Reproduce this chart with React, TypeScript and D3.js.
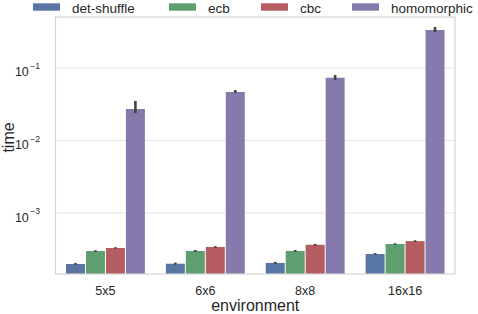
import React from 'react';
import * as d3 from 'd3';

const environments = ['5x5', '6x6', '8x8', '16x16'];
const methods = ['det-shuffle', 'ecb', 'cbc', 'homomorphic'];
const colors = ['#5975a4', '#5f9e6e', '#b55d60', '#857aab'];

// mean time per method, one entry per environment
const detShuffle = [0.000198, 0.000200, 0.000205, 0.000272];
const ecb = [0.000299, 0.000300, 0.000300, 0.000374];
const cbc = [0.000329, 0.000340, 0.000365, 0.000410];
const homomorphic = [0.0272, 0.0467, 0.0734, 0.334];

// confidence interval bounds
const ciLow = [
  [0.000192, 0.000194, 0.000199, 0.000265],
  [0.000291, 0.000292, 0.000292, 0.000365],
  [0.000320, 0.000331, 0.000355, 0.000400],
  [0.0239, 0.0452, 0.0683, 0.314],
];
const ciHigh = [
  [0.000205, 0.000207, 0.000212, 0.000280],
  [0.000307, 0.000309, 0.000309, 0.000383],
  [0.000338, 0.000349, 0.000375, 0.000421],
  [0.0351, 0.0497, 0.0800, 0.368],
];

const yTicks = [1e-3, 1e-2, 1e-1];
const yTickExp = ['−3', '−2', '−1'];
// ————————————————————

const series = [detShuffle, ecb, cbc, homomorphic];

const W = 478;
const H = 314;
const margin = { top: 17, right: 23, bottom: 40, left: 55.5 };
const FONT = '"Liberation Sans", Arial, sans-serif';

export default function App() {
  const width = W - margin.left - margin.right;
  const height = H - margin.top - margin.bottom;

  const x0 = d3.scaleBand().domain(environments).range([0, width]).paddingInner(0).paddingOuter(0);
  const x1 = d3.scaleBand().domain(methods)
    .range([x0.bandwidth() * 0.1, x0.bandwidth() * 0.9]).padding(0);
  const y = d3.scaleLog().domain([1.442e-4, 0.505]).range([height, 0]);

  const legendX = [33, 169, 261, 352];
  const legendTextX = [72, 208, 300, 391];

  return (
    <svg width={W} height={H} style={{ position: 'absolute', left: 0, top: 0, background: '#fff' }}
      fontFamily={FONT}>
      {/* legend */}
      {methods.map((m, i) => (
        <g key={m}>
          <rect x={legendX[i]} y={3.3} width={27} height={7.4} fill={colors[i]} />
          <text x={legendTextX[i]} y={12.5} fontSize={13.5} fill="#262626">{m}</text>
        </g>
      ))}

      <g transform={`translate(${margin.left},${margin.top})`}>
        {/* grid */}
        {yTicks.map(t => (
          <line key={t} x1={0} x2={width} y1={y(t)} y2={y(t)} stroke="#e6e6e6" strokeWidth={1.2} />
        ))}

        {/* bars */}
        {environments.map((env, ei) => (
          <g key={env} transform={`translate(${x0(env)},0)`}>
            {methods.map((m, mi) => {
              const v = series[mi][ei];
              const bx = x1(m)!;
              const bw = x1.bandwidth();
              const cx = bx + bw / 2;
              return (
                <g key={m}>
                  <rect x={bx + 0.5} y={y(v)} width={bw - 1} height={height - y(v)} fill={colors[mi]} />
                  <line x1={cx} x2={cx} y1={y(ciHigh[mi][ei])} y2={y(ciLow[mi][ei])}
                    stroke="#424242" strokeWidth={2.6} />
                </g>
              );
            })}
          </g>
        ))}

        {/* frame */}
        <rect x={0} y={0} width={width} height={height} fill="none" stroke="#d4d4d4" strokeWidth={1.2} />

        {/* y tick labels */}
        {yTicks.map((t, i) => (
          <text key={t} x={-15.5} y={y(t) + 8.5} fontSize={12.5} fill="#262626" textAnchor="end">
            10
            <tspan dx={1.5} dy={-7.5} fontSize={8.5}>{yTickExp[i]}</tspan>
          </text>
        ))}

        {/* x tick labels */}
        {environments.map(env => (
          <text key={env} x={x0(env)! + x0.bandwidth() / 2} y={height + 21} fontSize={12.5}
            fill="#262626" textAnchor="middle">{env}</text>
        ))}

        {/* axis titles */}
        <text x={width / 2} y={height + 37} fontSize={16} fill="#262626" textAnchor="middle">environment</text>
        <text transform={`translate(${-41.5},${height / 2 - 8}) rotate(-90)`} fontSize={16} fill="#262626"
          textAnchor="middle">time</text>
      </g>
    </svg>
  );
}
